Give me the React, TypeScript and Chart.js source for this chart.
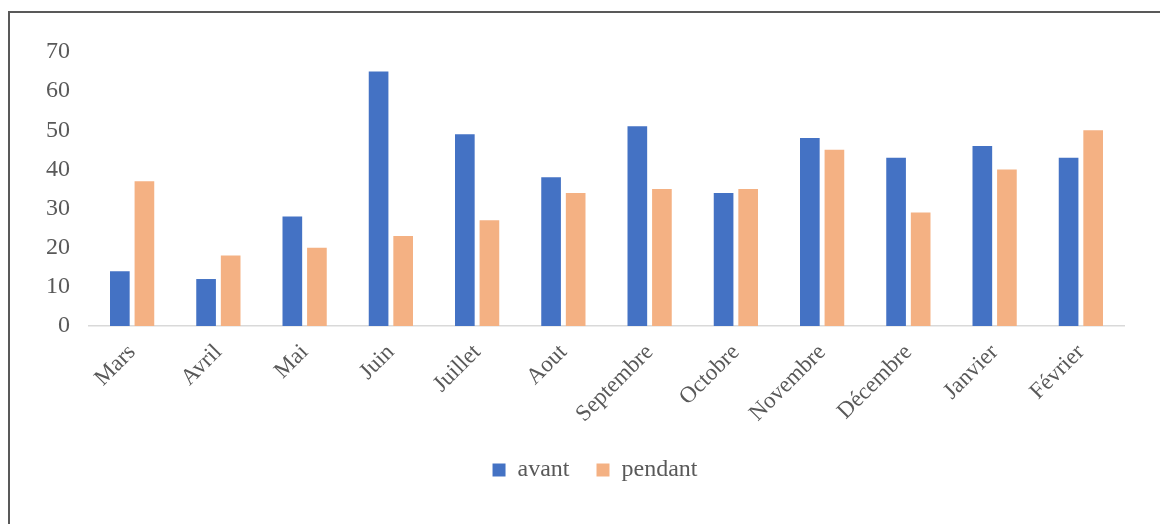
import React, { useEffect, useRef } from "react";
import { Chart, registerables } from "chart.js";

Chart.register(...registerables);

const months = [
  "Mars", "Avril", "Mai", "Juin", "Juillet", "Aout",
  "Septembre", "Octobre", "Novembre", "Décembre", "Janvier", "Février",
];
const avant = [14, 12, 28, 65, 49, 38, 51, 34, 48, 43, 46, 43];
const pendant = [37, 18, 20, 23, 27, 34, 35, 35, 45, 29, 40, 50];
const yTicks = [0, 10, 20, 30, 40, 50, 60, 70];

const FONT = "'Liberation Serif', 'Times New Roman', serif";
const TEXT = "#595959";

// Nudges the legend so it sits centred under the plot rather than the canvas.
const legendShift = {
  id: "legendShift",
  afterLayout(chart: any) {
    const lg = chart.legend;
    if (!lg) return;
    lg.left += 33;
    lg.right += 33;
  },
};

export default function App() {
  const ref = useRef<HTMLCanvasElement | null>(null);

  useEffect(() => {
    if (!ref.current) return;
    const chart = new Chart(ref.current, {
      type: "bar",
      data: {
        labels: months,
        datasets: [
          {
            label: "avant",
            data: avant,
            backgroundColor: "#4472C4",
            categoryPercentage: 0.57,
            barPercentage: 0.8,
          },
          {
            label: "pendant",
            data: pendant,
            backgroundColor: "#F4B183",
            categoryPercentage: 0.57,
            barPercentage: 0.8,
          },
        ],
      },
      options: {
        animation: false,
        responsive: false,
        maintainAspectRatio: false,
        layout: { padding: { left: 0, right: 36, top: 52, bottom: 32 } },
        plugins: {
          tooltip: { enabled: false },
          legend: {
            position: "bottom",
            labels: {
              font: { family: FONT, size: 24 },
              color: TEXT,
              boxWidth: 13,
              boxHeight: 13,
              padding: 27,
            },
          },
        },
        scales: {
          x: {
            grid: { display: false },
            border: { display: true, color: "#d9d9d9", width: 1.5 },
            ticks: {
              font: { family: FONT, size: 23 },
              color: TEXT,
              minRotation: 45,
              maxRotation: 45,
              autoSkip: false,
              padding: 5,
            },
            afterFit: (s: any) => {
              s.height = 105;
            },
          },
          y: {
            min: 0,
            max: 70,
            grid: { display: false, drawTicks: false },
            border: { display: false },
            afterBuildTicks: (s: any) => {
              s.ticks = yTicks.map((v) => ({ value: v }));
            },
            ticks: {
              font: { family: FONT, size: 24 },
              color: TEXT,
              padding: 19,
            },
            afterFit: (s: any) => {
              s.width = 89;
            },
          },
        },
      },
      plugins: [legendShift],
    });
    return () => chart.destroy();
  }, []);

  return (
    <div style={{ position: "fixed", left: 0, top: 0, width: 1160, height: 524, overflow: "hidden", background: "#fff" }}>
      <div
        style={{
          position: "absolute",
          left: 8,
          top: 11,
          width: 1200,
          height: 600,
          border: "2px solid #595959",
        }}
      />
      <canvas
        ref={ref}
        width={1160}
        height={524}
        style={{ position: "absolute", left: 0, top: 0, width: 1160, height: 524 }}
      />
    </div>
  );
}
